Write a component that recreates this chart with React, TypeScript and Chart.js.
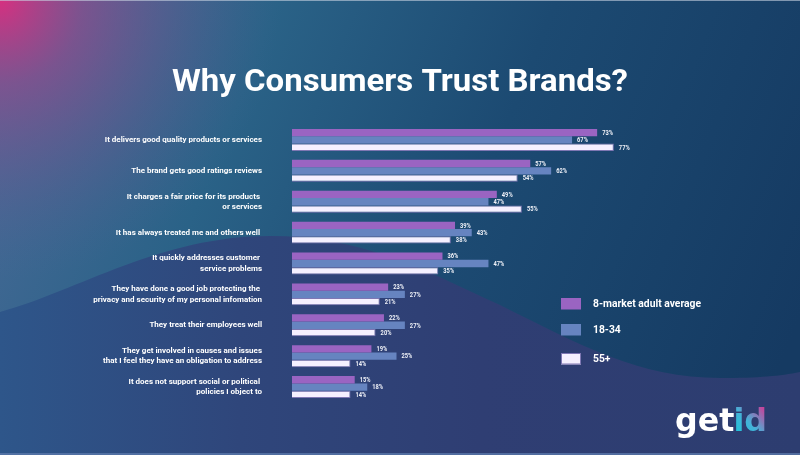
import React, { useEffect, useRef } from 'react';
import { Chart, registerables } from 'chart.js';

Chart.register(...registerables);

const chartTitle = 'Why Consumers Trust Brands?';

const categories: (string | string[])[] = [
  'It delivers good quality products or services',
  'The brand gets good ratings reviews',
  ['It charges a fair price for its products ', 'or services'],
  'It has always treated me and others well ',
  ['It quickly addresses customer ', 'service problems'],
  ['They have done a good job protecting the ', 'privacy and security of my personal infomation'],
  'They treat their employees well',
  ['They get involved in causes and issues', 'that I feel they have an obligation to address'],
  ['It does not support social or political ', 'policies I object to'],
];

const seriesNames = ['8-market adult average', '18-34', '55+'];
const adultAverage = [73, 57, 49, 39, 36, 23, 22, 19, 15];
const age18to34 = [67, 62, 47, 43, 47, 27, 27, 25, 18];
const age55plus = [77, 54, 55, 38, 35, 21, 20, 14, 14];

const seriesColors = ['#9a64c2', '#6684c0', '#f5f0ff'];
const seriesBorders = ['#9a64c2', '#6684c0', '#7e77b3'];
const seriesBorderWidths = [0, 0, 1];

const logoParts = ['get', 'id'];

const FONT = 'Roboto, "Noto Sans", sans-serif';

function condensedText(
  ctx: CanvasRenderingContext2D,
  text: string,
  x: number,
  y: number,
  font: string,
  sx: number,
  align: CanvasTextAlign,
  color: string,
) {
  ctx.save();
  ctx.font = font;
  ctx.fillStyle = color;
  ctx.textAlign = align;
  ctx.textBaseline = 'middle';
  ctx.translate(x, y);
  ctx.scale(sx, 1);
  ctx.fillText(text, 0, 0);
  ctx.restore();
}

const bgPlugin = {
  id: 'bgPlugin',
  beforeDraw(chart: any) {
    const { ctx, width, height } = chart;
    ctx.save();
    const base = ctx.createLinearGradient(0, 0, width, height * 0.7);
    base.addColorStop(0, '#4a6a98');
    base.addColorStop(0.3, '#2a6287');
    base.addColorStop(0.6, '#1c4a72');
    base.addColorStop(1, '#153a62');
    ctx.fillStyle = base;
    ctx.fillRect(0, 0, width, height);

    const mag = ctx.createRadialGradient(0, 0, 0, 0, 0, 280);
    mag.addColorStop(0, 'rgba(214,48,128,1)');
    mag.addColorStop(0.3, 'rgba(160,70,140,0.6)');
    mag.addColorStop(1, 'rgba(80,100,150,0)');
    ctx.fillStyle = mag;
    ctx.fillRect(0, 0, width, height);

    const wave = ctx.createLinearGradient(0, 0, width, 0);
    wave.addColorStop(0, '#2e568a');
    wave.addColorStop(0.3, '#2f467b');
    wave.addColorStop(0.6, '#2f3e73');
    wave.addColorStop(1, '#2d3d70');
    ctx.fillStyle = wave;
    ctx.beginPath();
    ctx.moveTo(0, 312);
    ctx.bezierCurveTo(80, 290, 160, 236, 270, 236);
    ctx.bezierCurveTo(360, 236, 420, 268, 500, 305);
    ctx.bezierCurveTo(580, 345, 640, 378, 720, 378);
    ctx.bezierCurveTo(760, 378, 780, 376, 800, 372);
    ctx.lineTo(800, height);
    ctx.lineTo(0, height);
    ctx.closePath();
    ctx.fill();

    ctx.fillStyle = 'rgba(200,210,225,0.6)';
    ctx.fillRect(0, 0, width, 1);
    ctx.fillStyle = 'rgba(90,120,170,0.8)';
    ctx.fillRect(0, height - 2, width, 2);
    ctx.restore();
  },
};

const valuePlugin = {
  id: 'valuePlugin',
  afterDatasetsDraw(chart: any) {
    const { ctx } = chart;
    chart.data.datasets.forEach((ds: any, di: number) => {
      const meta = chart.getDatasetMeta(di);
      meta.data.forEach((bar: any, i: number) => {
        condensedText(ctx, `${ds.data[i]}%`, bar.x + 5, bar.y + 0.5, `bold 7px ${FONT}`, 0.82, 'left', '#eef0f7');
      });
    });
  },
};

const overlayPlugin = {
  id: 'overlayPlugin',
  afterDraw(chart: any) {
    const { ctx } = chart;
    // title
    ctx.save();
    ctx.font = `bold 31px ${FONT}`;
    const tw = ctx.measureText(chartTitle).width;
    ctx.restore();
    condensedText(ctx, chartTitle, 400, 83, `bold 31px ${FONT}`, 456 / tw, 'center', '#ffffff');

    // legend
    const boxTops = [298, 324, 353];
    ctx.save();
    ctx.font = `bold 11px ${FONT}`;
    const lw = ctx.measureText(seriesNames[0]).width;
    ctx.restore();
    const lsx = 108 / lw;
    chart.data.datasets.forEach((ds: any, di: number) => {
      const top = boxTops[di];
      ctx.save();
      ctx.fillStyle = ds.backgroundColor;
      ctx.fillRect(561, top, 20, 11.5);
      if (ds.borderWidth) {
        ctx.strokeStyle = ds.borderColor;
        ctx.lineWidth = 1;
        ctx.strokeRect(561.5, top + 0.5, 19, 10.5);
      }
      ctx.restore();
      condensedText(ctx, ds.label, 593, top + 6, `bold 11px ${FONT}`, lsx, 'left', '#ffffff');
    });

    // logo
    ctx.save();
    const logoFont = 'bold 32px "DejaVu Sans", sans-serif';
    ctx.font = logoFont;
    const wGet = ctx.measureText(logoParts[0]).width;
    const wId = ctx.measureText(logoParts[1]).width;
    const ls = 93 / (wGet + wId);
    ctx.translate(675, 431);
    ctx.scale(ls, 1);
    ctx.textBaseline = 'alphabetic';
    ctx.textAlign = 'left';
    ctx.fillStyle = '#ffffff';
    ctx.fillText(logoParts[0], 0, 0);
    const g = ctx.createLinearGradient(wGet, 6, wGet + wId, -26);
    g.addColorStop(0, '#17c7da');
    g.addColorStop(0.45, '#45b2d8');
    g.addColorStop(1, '#e8268a');
    ctx.fillStyle = g;
    ctx.fillText(logoParts[1], wGet - 1, 0);
    ctx.restore();
  },
};

export default function App() {
  const ref = useRef<HTMLCanvasElement | null>(null);

  useEffect(() => {
    const canvas = ref.current;
    if (!canvas) return;
    const seriesData = [adultAverage, age18to34, age55plus];
    const chart = new Chart(canvas, {
      type: 'bar',
      data: {
        labels: categories,
        datasets: seriesNames.map((name, i) => ({
          label: name,
          data: seriesData[i],
          backgroundColor: seriesColors[i],
          borderColor: seriesBorders[i],
          borderWidth: seriesBorderWidths[i],
          categoryPercentage: 0.71,
          barPercentage: 1,
        })),
      },
      options: {
        indexAxis: 'y',
        responsive: false,
        maintainAspectRatio: false,
        animation: false,
        devicePixelRatio: 1,
        layout: { padding: { left: 0, right: 90, top: 124.5, bottom: 52.5 } },
        scales: {
          x: { display: false, min: 0, max: 100 },
          y: {
            afterFit: (s: any) => {
              s.width = 292;
            },
            grid: { display: false, drawTicks: false },
            border: { display: false },
            ticks: {
              color: '#ffffff',
              padding: 30,
              autoSkip: false,
              font: { family: FONT, size: 8, weight: 'bold', lineHeight: 1.3 },
            },
          },
        },
        plugins: {
          legend: { display: false },
          tooltip: { enabled: false },
          title: { display: false },
        },
      } as any,
      plugins: [bgPlugin, valuePlugin, overlayPlugin],
    });
    return () => chart.destroy();
  }, []);

  return (
    <div style={{ position: 'fixed', left: 0, top: 0, width: 800, height: 455 }}>
      <canvas ref={ref} width={800} height={455} style={{ display: 'block', width: 800, height: 455 }} />
    </div>
  );
}
